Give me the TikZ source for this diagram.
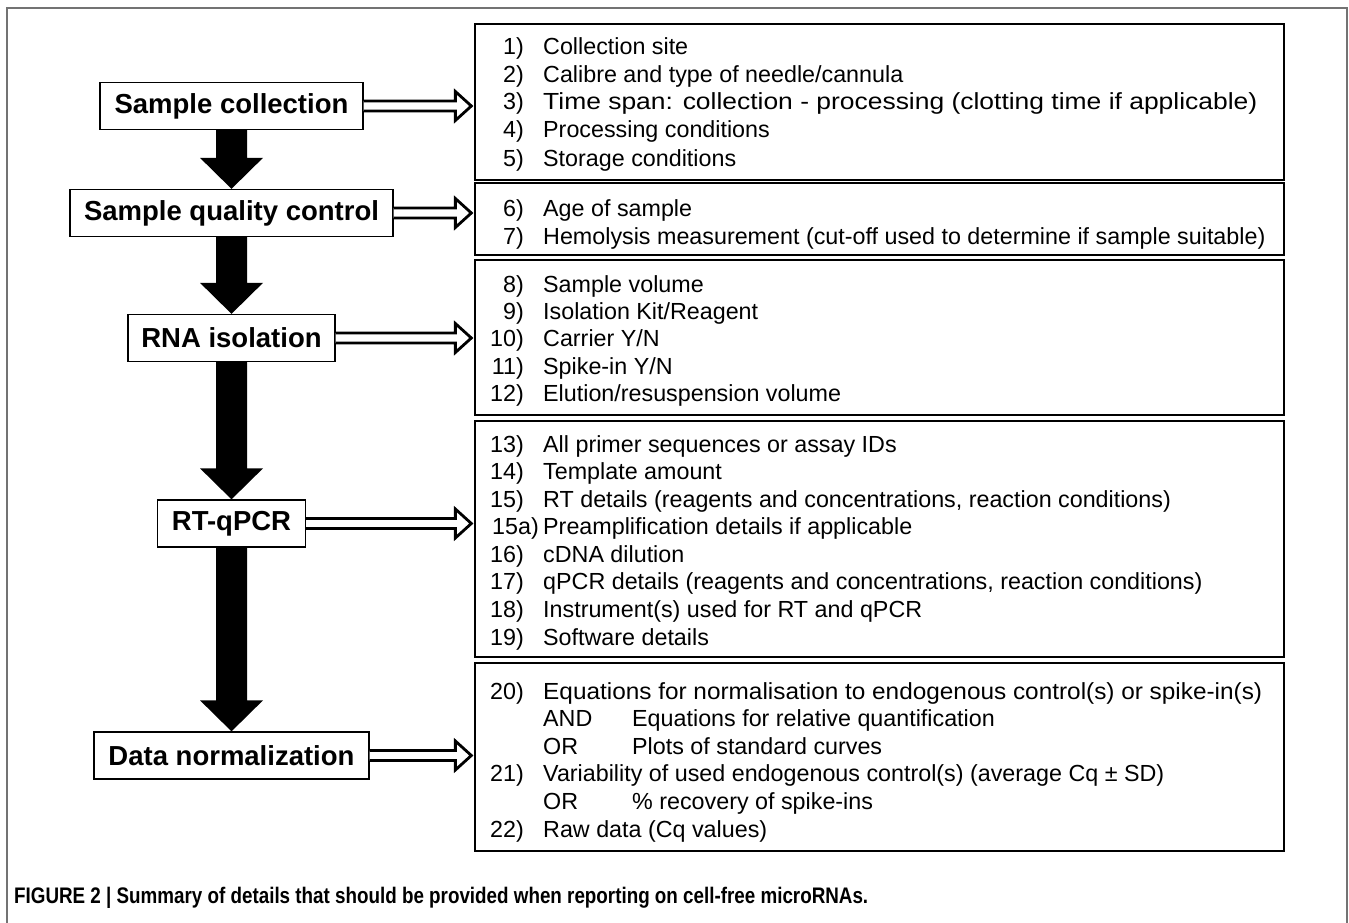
\documentclass[tikz,border=0pt]{standalone}
\usepackage{fontspec}
\usepackage{graphicx}
\setmainfont{Liberation Sans}
\usetikzlibrary{calc}
\newcommand{\li}[4]{%
  \node[num] (n#1) at (524,#2) {#3};
  \node[txt] (t#1) at (543,#2) {#4};}
\newcommand{\bigdown}[2]{%
  \fill let \p1=(#1.south), \p2=(#2.north) in
    (\x1-15.5pt,\y1) -- (\x1+15.5pt,\y1) -- (\x1+15.5pt,\y2+31pt) -- (\x1+31.5pt,\y2+31pt)
    -- (\x1,\y2) -- (\x1-31.5pt,\y2+31pt) -- (\x1-15.5pt,\y2+31pt) -- cycle;}
\newcommand{\openright}[2]{%
  \draw[openarrow] let \p1=(#1.east), \p2=(#2.west) in
    (\x1,\y1+5pt) -- (\x2-19pt,\y1+5pt) -- (\x2-19pt,\y1+14.5pt) -- (\x2-3pt,\y1)
    -- (\x2-19pt,\y1-14.5pt) -- (\x2-19pt,\y1-5pt) -- (\x1,\y1-5pt);}
\begin{document}
\begin{tikzpicture}[x=1pt,y=-1pt,
  lbox/.style={draw, line width=1.3pt, fill=white, inner sep=0pt, minimum height=47pt,
    font=\fontsize{27.5}{30}\selectfont\bfseries},
  rbox/.style={draw, line width=1.3pt, inner sep=0pt},
  num/.style={anchor=base east, inner sep=0pt, font=\fontsize{23.3}{26}\selectfont},
  txt/.style={anchor=base west, inner sep=0pt, font=\fontsize{23.3}{26}\selectfont},
  openarrow/.style={line width=2.8pt, fill=white, line join=miter, miter limit=10},
  frame/.style={draw=black!55, line width=2pt}]
\useasboundingbox (0,0) rectangle (1349,923);
\draw[frame] (7,940) -- (7,8) -- (1347,8) -- (1347,940);

% right boxes
\node[rbox, minimum width=809pt, minimum height=156pt] (r1) at (879.5,102) {};
\node[rbox, minimum width=809pt, minimum height=72pt] (r2) at (879.5,219) {};
\node[rbox, minimum width=809pt, minimum height=155pt] (r3) at (879.5,337.5) {};
\node[rbox, minimum width=809pt, minimum height=236pt] (r4) at (879.5,539) {};
\node[rbox, minimum width=809pt, minimum height=188pt] (r5) at (879.5,757) {};

% left boxes
\node[lbox, minimum width=263pt] (s1) at (231.5,106) {Sample collection};
\node[lbox, minimum width=323pt] (s2) at (231.5,213) {Sample quality control};
\node[lbox, minimum width=207pt] (s3) at (231.5,338) {RNA isolation};
\node[lbox, minimum width=148pt] (s4) at (231.5,523.5) {RT-qPCR};
\node[lbox, minimum width=275pt] (s5) at (231.5,755.5) {Data normalization};

% black arrows
\bigdown{s1}{s2}
\bigdown{s2}{s3}
\bigdown{s3}{s4}
\bigdown{s4}{s5}

% open arrows
\openright{s1}{r1}
\openright{s2}{r2}
\openright{s3}{r3}
\openright{s4}{r4}
\openright{s5}{r5}

% box 1
\li{1}{55}{1)}{Collection site}
\li{2}{82.5}{2)}{Calibre and type of needle/cannula}
\li{3}{110}{3)}{\resizebox{714pt}{\height}{Time span: collection - processing (clotting time if applicable)}}
\li{4}{138}{4)}{Processing conditions}
\li{5}{166}{5)}{Storage conditions}
% box 2
\li{6}{216}{6)}{Age of sample}
\li{7}{244}{7)}{Hemolysis measurement (cut-off used to determine if sample suitable)}
% box 3
\li{8}{292}{8)}{Sample volume}
\li{9}{319}{9)}{Isolation Kit/Reagent}
\li{10}{346.5}{10)}{Carrier Y/N}
\li{11}{374}{11)}{Spike-in Y/N}
\li{12}{401}{12)}{Elution/resuspension volume}
% box 4
\li{13}{452}{13)}{All primer sequences or assay IDs}
\li{14}{479.5}{14)}{Template amount}
\li{15}{507}{15)}{RT details (reagents and concentrations, reaction conditions)}
\node[txt] (n15a) at (492,534.5) {15a)};
\node[txt] (t15a) at (543,534.5) {Preamplification details if applicable};
\li{16}{562}{16)}{cDNA dilution}
\li{17}{589.5}{17)}{qPCR details (reagents and concentrations, reaction conditions)}
\li{18}{617}{18)}{Instrument(s) used for RT and qPCR}
\li{19}{645}{19)}{Software details}
% box 5
\li{20}{699}{20)}{\resizebox{719pt}{\height}{Equations for normalisation to endogenous control(s) or spike-in(s)}}
\node[txt] (a1) at (543,726) {AND};
\node[txt] (a2) at (632,726) {Equations for relative quantification};
\node[txt] (o1) at (543,754) {OR};
\node[txt] (o2) at (632,754) {Plots of standard curves};
\li{21}{781}{21)}{Variability of used endogenous control(s) (average Cq \textpm{} SD)}
\node[txt] (o3) at (543,809) {OR};
\node[txt] (o4) at (632,809) {\% recovery of spike-ins};
\li{22}{837}{22)}{Raw data (Cq values)}

% caption
\node[anchor=base west, inner sep=0pt, font=\fontsize{22.5}{26}\selectfont\bfseries] (cap) at (14,903)
  {\resizebox{854pt}{\height}{FIGURE 2 | Summary of details that should be provided when reporting on cell-free microRNAs.}};
\end{tikzpicture}
\end{document}
